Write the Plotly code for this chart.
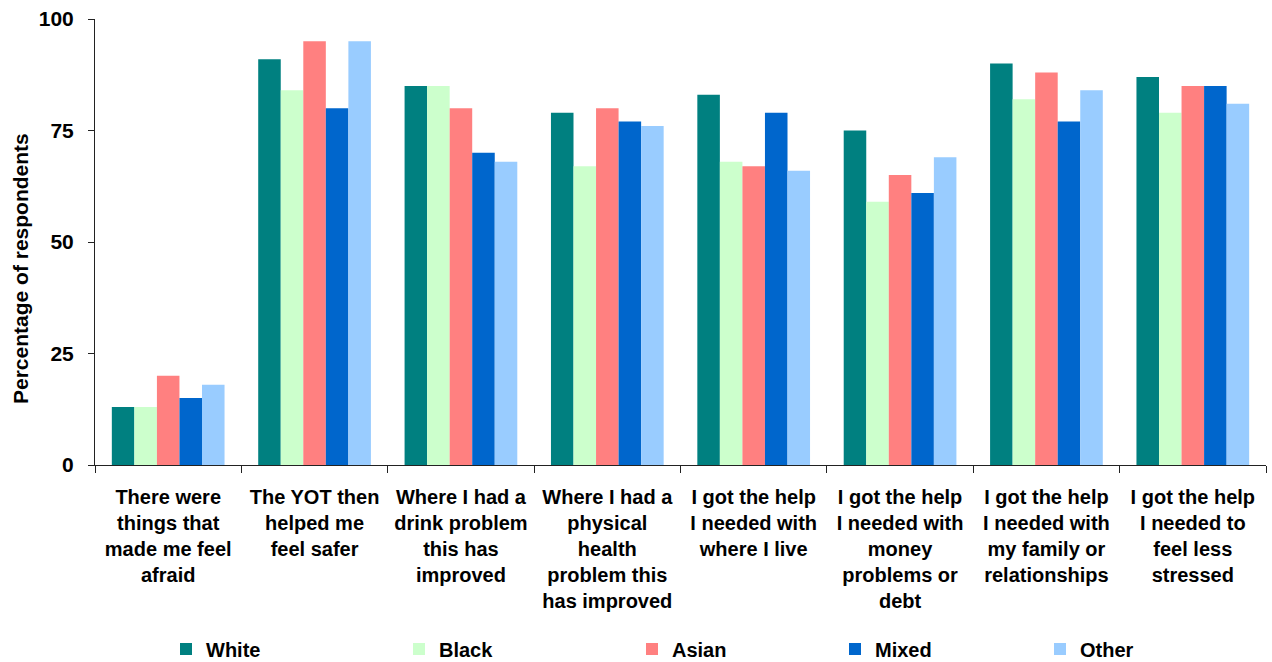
import plotly.graph_objects as go

categories = [
    "There were<br>things that<br>made me feel<br>afraid",
    "The YOT then<br>helped me<br>feel safer",
    "Where I had a<br>drink problem<br>this has<br>improved",
    "Where I had a<br>physical<br>health<br>problem this<br>has improved",
    "I got the help<br>I needed with<br>where I live",
    "I got the help<br>I needed with<br>money<br>problems or<br>debt",
    "I got the help<br>I needed with<br>my family or<br>relationships",
    "I got the help<br>I needed to<br>feel less<br>stressed",
]

white = [13, 91, 85, 79, 83, 75, 90, 87]
black = [13, 84, 85, 67, 68, 59, 82, 79]
asian = [20, 95, 80, 80, 67, 65, 88, 85]
mixed = [15, 80, 70, 77, 79, 61, 77, 85]
other = [18, 95, 68, 76, 66, 69, 84, 81]

y_ticks = [0, 25, 50, 75, 100]

series = [
    ("White", white, "#008080"),
    ("Black", black, "#CCFFCC"),
    ("Asian", asian, "#FF8080"),
    ("Mixed", mixed, "#0066CC"),
    ("Other", other, "#99CCFF"),
]

FONT = "Liberation Sans, Arial, sans-serif"

# Figure geometry (pixels)
W, H = 1272, 662
ML, MR, MT, MB = 95, 6, 19, 197
plot_w = W - ML - MR
plot_h = H - MT - MB

# Left edge of each legend entry along the bottom row (pixels)
legend_left_px = [166, 399, 632, 835, 1040]
legend_mid_px = 649

fig = go.Figure()
layout_legends = {}
for i, (name, vals, color) in enumerate(series):
    key = "legend" if i == 0 else f"legend{i + 1}"
    fig.add_trace(go.Bar(
        name=name, x=categories, y=vals,
        marker=dict(color=color, line=dict(width=0)),
        legend=key,
    ))
    layout_legends[key] = dict(
        orientation="h",
        x=(legend_left_px[i] - ML) / plot_w, xanchor="left",
        # paper units: 0 at plot bottom, 1 at plot top
        y=-(legend_mid_px - (MT + plot_h)) / plot_h,
        yanchor="middle",
        font=dict(family=FONT, size=20, color="black", weight="bold"),
        bgcolor="rgba(0,0,0,0)",
    )

fig.update_layout(
    width=W, height=H,
    margin=dict(l=ML, r=MR, t=MT, b=MB, autoexpand=False),
    paper_bgcolor="white", plot_bgcolor="white",
    barmode="group", bargap=0.23, bargroupgap=0,
    font=dict(family=FONT, size=20, color="black", weight="bold"),
    showlegend=True,
    **layout_legends,
)

fig.update_xaxes(
    showline=True, linecolor="#222", linewidth=1,
    ticks="outside", tickson="boundaries", ticklen=7, tickcolor="#222",
    tickfont=dict(family=FONT, size=20, weight="bold"),
    ticklabelstandoff=14,
    showgrid=False, tickangle=0,
)
fig.update_yaxes(
    range=[0, 100], tickvals=y_ticks,
    showline=True, linecolor="#222", linewidth=1,
    ticks="outside", ticklen=6, tickcolor="#222",
    tickfont=dict(family=FONT, size=21, weight="bold"),
    ticklabelstandoff=10,
    showgrid=False, zeroline=False,
)

# Axis title placed as a rotated annotation
fig.add_annotation(
    text="Percentage of respondents",
    xref="paper", yref="paper",
    x=-(ML - 20) / plot_w, xanchor="center",
    y=(MT + plot_h - 269) / plot_h, yanchor="middle",
    textangle=-90, showarrow=False,
    font=dict(family=FONT, size=21, color="black", weight="bold"),
)

fig.write_html("out.html")
